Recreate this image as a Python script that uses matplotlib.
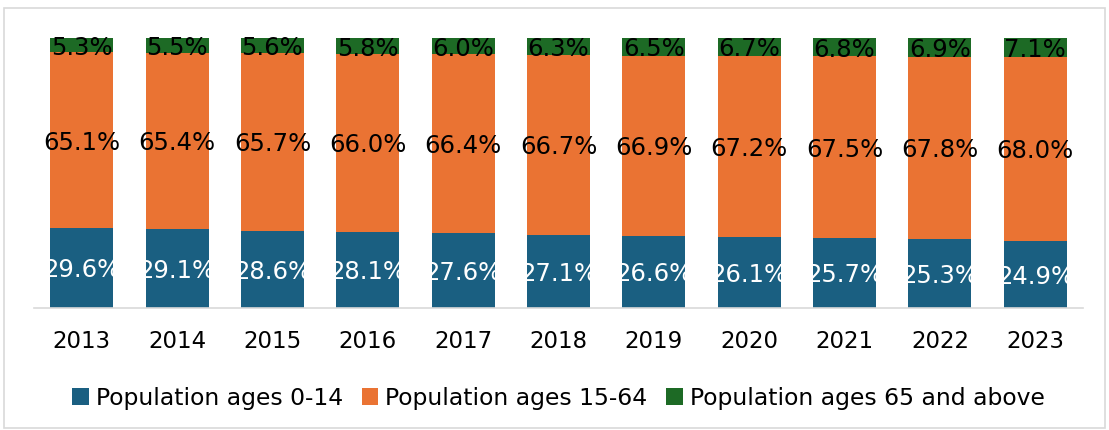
import matplotlib.pyplot as plt
from matplotlib.patches import Rectangle

years = ["2013", "2014", "2015", "2016", "2017", "2018", "2019", "2020", "2021", "2022", "2023"]
ages_0_14 = [29.6, 29.1, 28.6, 28.1, 27.6, 27.1, 26.6, 26.1, 25.7, 25.3, 24.9]
ages_15_64 = [65.1, 65.4, 65.7, 66.0, 66.4, 66.7, 66.9, 67.2, 67.5, 67.8, 68.0]
ages_65_up = [5.3, 5.5, 5.6, 5.8, 6.0, 6.3, 6.5, 6.7, 6.8, 6.9, 7.1]

series = [
    ("Population ages 0-14", ages_0_14, "#1a5f81", "white"),
    ("Population ages 15-64", ages_15_64, "#ea7333", "black"),
    ("Population ages 65 and above", ages_65_up, "#1d6a25", "black"),
]

plt.rcParams['font.family'] = ['DejaVu Sans']

fig = plt.figure(figsize=(11.09, 4.30), dpi=100)
ax = fig.add_axes([34 / 1109, 1 - 307.7 / 430, (1083 - 34) / 1109, (307.7 - 38) / 430])

x = list(range(len(years)))
bottom = [0.0] * len(years)
for name, vals, color, tcolor in series:
    ax.bar(x, vals, width=0.66, bottom=bottom, color=color, label=name, linewidth=0)
    for i, v in enumerate(vals):
        ax.text(i, bottom[i] + v / 2 - 0.9, f"{v:.1f}%", ha="center", va="center",
                fontsize=17.5, color=tcolor)
    bottom = [b + v for b, v in zip(bottom, vals)]

ax.set_xlim(-0.5, len(years) - 0.5)
ax.set_ylim(0, 100)
ax.set_xticks(x)
ax.set_xticklabels(years, fontsize=16.5)
ax.tick_params(axis="x", length=0, pad=16)
ax.set_yticks([])
for s in ["top", "left", "right"]:
    ax.spines[s].set_visible(False)
ax.spines["bottom"].set_color("#d9d9d9")
ax.spines["bottom"].set_linewidth(1.2)

fig.legend(loc="center", bbox_to_anchor=(0.5036, 32 / 430), ncol=3, frameon=False,
           fontsize=16.9, handlelength=0.7, handleheight=0.7, handletextpad=0.3,
           columnspacing=0.8)

# thin grey frame around the whole chart
fig.patches.append(Rectangle((4 / 1109, 2 / 430), 1 - 8 / 1109, 1 - 10 / 430,
                             transform=fig.transFigure, fill=False,
                             edgecolor="#d9d9d9", linewidth=1.2))

fig.savefig("out.png", dpi=100)
